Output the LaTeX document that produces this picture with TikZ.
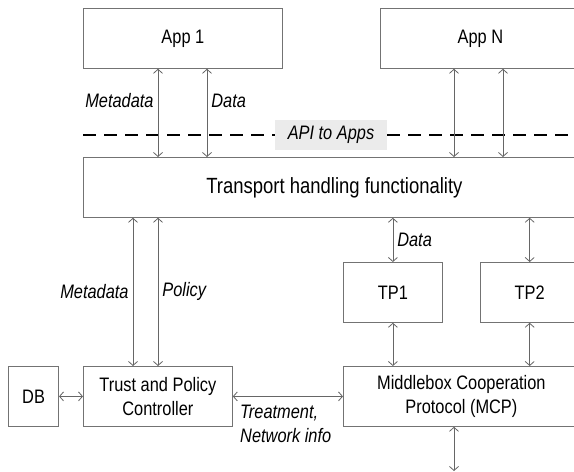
\documentclass[tikz,border=0pt]{standalone}
\usepackage{fontspec}
\setmainfont[FakeStretch=0.84]{Liberation Sans}
\usetikzlibrary{positioning,arrows.meta}
\tikzset{
    box/.style={draw=black!55, line width=0.8pt, anchor=north west, inner sep=0pt,
        align=center, minimum height=60pt, font=\fontsize{19.5}{24}\selectfont},
    link/.style={draw=black!60, line width=0.8pt, <->,
        >={Straight Barb[length=4pt,width=9pt]}},
    lbl/.style={font=\fontsize{19.5}{24}\selectfont\itshape, inner sep=4pt},
    apiline/.style={line width=2pt, dash pattern=on 13pt off 8pt}
}

\begin{document}
\begin{tikzpicture}[x=1pt, y=-1pt]
\clip (0,0) rectangle (574,472);

% applications
\node[box, minimum width=199pt] (app1) at (83,8) {App 1};
\node[box, minimum width=200pt] (appN) at (380,8) {App N};

% API
\node[fill=black!8, minimum width=112pt, minimum height=30pt, lbl] (api) at (331,135) {API to Apps};
\draw[apiline] (app1.west |- api) -- (api.west);
\draw[apiline] (api.east) -- (appN.east |- api);

\node[box, minimum width=502pt, font=\fontsize{22}{26}\selectfont] (transport) at (83,157)
    {Transport handling functionality};

% control and protocols
\node[box, minimum width=149pt] (trust) at (83,366) {Trust and Policy\\Controller};
\node[box, minimum width=50pt, left=24pt of trust] (db) {DB};
\node[box, minimum width=99pt] (tp1) at (343,262) {TP1};
\node[box, minimum width=99pt, right=37pt of tp1] (tp2) {TP2};
\node[box, minimum width=236pt] (mcp) at (343,366) {Middlebox Cooperation\\Protocol (MCP)};
\coordinate (net) at (454,471);

% links
\draw[link] (app1.south -| 158,0) -- node[lbl, left, pos=0.36] {Metadata} (transport.north -| 158,0);
\draw[link] (app1.south -| 207,0) -- node[lbl, right, pos=0.36] {Data} (transport.north -| 207,0);
\foreach \cx in {454,503}
    \draw[link] (appN.south -| \cx,0) -- (transport.north -| \cx,0);

\draw[link] (transport.south -| 133,0) -- node[lbl, left] {Metadata} (trust.north -| 133,0);
\draw[link] (transport.south -| 158,0) -- node[lbl, right] {Policy} (trust.north -| 158,0);
\draw[link] (transport.south -| tp1) -- node[lbl, right] {Data} (tp1);
\draw[link] (transport.south -| tp2) -- (tp2);
\draw[link] (tp1) -- (mcp.north -| tp1);
\draw[link] (tp2) -- (mcp.north -| tp2);

\draw[link] (db) -- (trust);
\draw[link] (trust) -- node[lbl, at start, below right, align=left, xshift=3pt, yshift=-4pt] {Treatment,\\Network info} (mcp);
\draw[link] (mcp.south -| net) -- (net);
\end{tikzpicture}
\end{document}
